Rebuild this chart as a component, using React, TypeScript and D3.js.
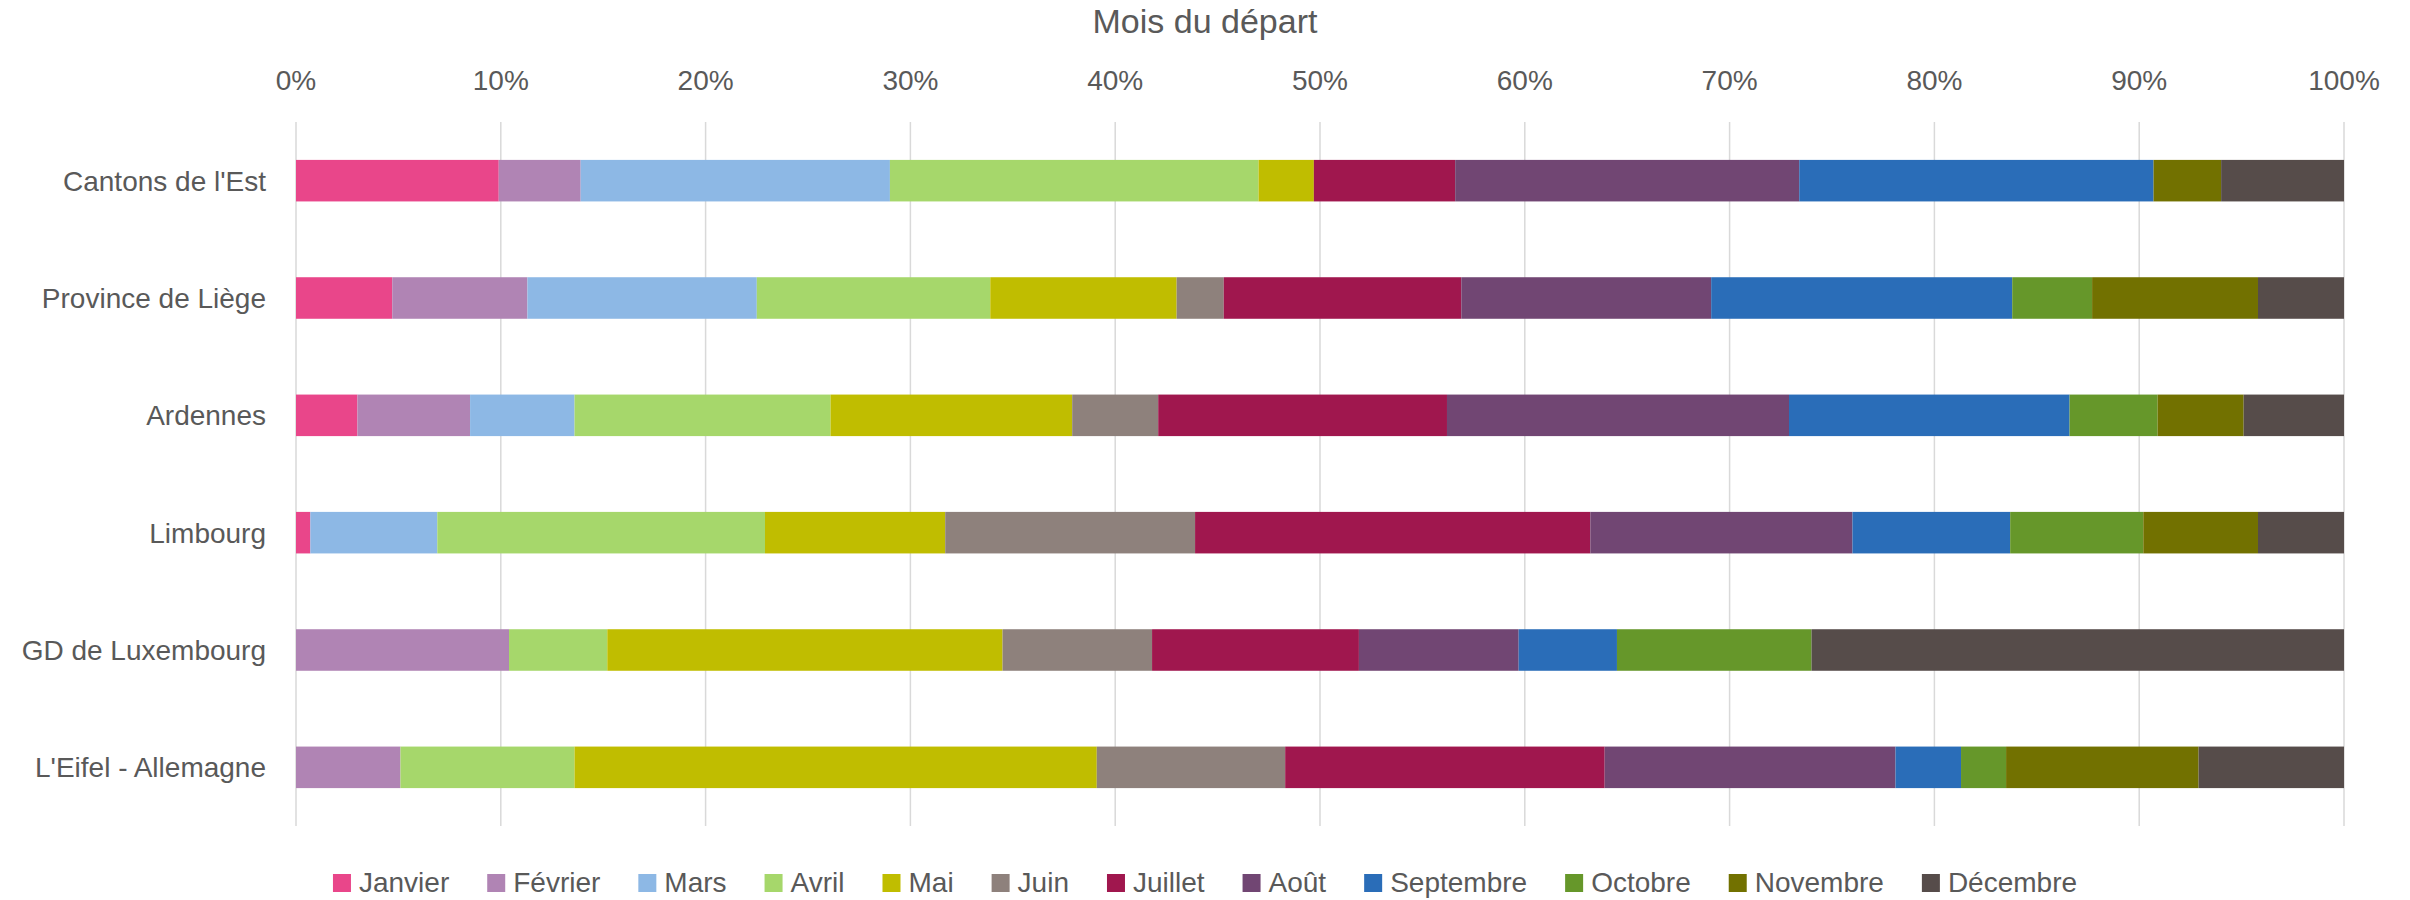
import * as d3 from 'd3';
import { useMemo } from 'react';

const WIDTH = 2410;
const HEIGHT = 900;
const MARGIN = { top: 122, right: 66, bottom: 74, left: 296 };
const FONT = "'Liberation Sans', Arial, sans-serif";
const TEXT_COLOR = '#595959';

const regions = [
  "Cantons de l'Est",
  'Province de Liège',
  'Ardennes',
  'Limbourg',
  'GD de Luxembourg',
  "L'Eifel - Allemagne",
];

const months = [
  'Janvier', 'Février', 'Mars', 'Avril', 'Mai', 'Juin',
  'Juillet', 'Août', 'Septembre', 'Octobre', 'Novembre', 'Décembre',
];

const monthColors = [
  '#E9468A', '#B084B4', '#8DB8E5', '#A6D76B', '#C0BD00', '#8E817C',
  '#A0174E', '#714673', '#2A6DB8', '#66972A', '#727100', '#564C4A',
];

// share of departures per month (%)
const cantonsEst = [9.9, 4.0, 15.1, 18.0, 2.7, 0, 6.9, 16.8, 17.3, 0, 3.3, 6.0];
const provinceLiege = [4.7, 6.6, 11.2, 11.4, 9.1, 2.3, 11.6, 12.2, 14.7, 3.9, 8.1, 4.2];
const ardennes = [3.0, 5.5, 5.1, 12.5, 11.8, 4.2, 14.1, 16.7, 13.7, 4.3, 4.2, 4.9];
const limbourg = [0.7, 0, 6.2, 16.0, 8.8, 12.2, 19.3, 12.8, 7.7, 6.5, 5.6, 4.2];
const gdLuxembourg = [0, 10.4, 0, 4.8, 19.3, 7.3, 10.1, 7.8, 4.8, 9.5, 0, 26.0];
const eifel = [0, 5.1, 0, 8.5, 25.5, 9.2, 15.6, 14.2, 3.2, 2.2, 9.4, 7.1];

const xTicks = [0, 0.1, 0.2, 0.3, 0.4, 0.5, 0.6, 0.7, 0.8, 0.9, 1];

const rows = [cantonsEst, provinceLiege, ardennes, limbourg, gdLuxembourg, eifel];

const measure = (() => {
  let ctx: CanvasRenderingContext2D | null = null;
  return (text: string, size: number) => {
    if (!ctx) ctx = document.createElement('canvas').getContext('2d');
    if (!ctx) return text.length * size * 0.5;
    ctx.font = `${size}px ${FONT}`;
    return ctx.measureText(text).width;
  };
})();

export default function App() {
  const boundsWidth = WIDTH - MARGIN.left - MARGIN.right;
  const plotBottom = 826;

  const table = useMemo(
    () =>
      regions.map((name, i) => {
        const row: Record<string, number | string> = { name };
        months.forEach((m, j) => (row[m] = rows[i][j]));
        return row;
      }),
    [],
  );

  const series = useMemo(
    () =>
      d3
        .stack<Record<string, number | string>>()
        .keys(months)
        .value((d, key) => d[key] as number)
        .offset(d3.stackOffsetExpand)(table),
    [table],
  );

  const xScale = d3
    .scaleLinear()
    .domain([0, 1])
    .range([MARGIN.left, MARGIN.left + boundsWidth]);

  const yScale = d3
    .scaleBand()
    .domain(regions)
    .range([MARGIN.top, plotBottom])
    .paddingInner(0.646)
    .paddingOuter(0.323);

  const color = d3.scaleOrdinal<string>().domain(months).range(monthColors);

  // legend layout, centred on the whole chart
  const legendSize = 28;
  const swatch = 18;
  const swatchGap = 8;
  const itemGap = 38;
  const items = months.map((m) => ({ m, w: measure(m, legendSize) }));
  const total =
    d3.sum(items, (d) => swatch + swatchGap + d.w) + itemGap * (items.length - 1);
  let cursor = WIDTH / 2 - total / 2;
  const legend = items.map((d) => {
    const x = cursor;
    cursor += swatch + swatchGap + d.w + itemGap;
    return { ...d, x };
  });

  return (
    <svg
      width={WIDTH}
      height={HEIGHT}
      style={{ position: 'absolute', left: 0, top: 0, background: '#fff' }}
      fontFamily={FONT}
    >
      <text
        x={WIDTH / 2}
        y={33}
        textAnchor="middle"
        fontSize={34}
        fill={TEXT_COLOR}
      >
        Mois du départ
      </text>

      {xTicks.map((t) => (
        <g key={t}>
          <line
            x1={xScale(t)}
            x2={xScale(t)}
            y1={MARGIN.top}
            y2={plotBottom}
            stroke="#D9D9D9"
            strokeWidth={1.5}
          />
          <text
            x={xScale(t)}
            y={90}
            textAnchor="middle"
            fontSize={28}
            fill={TEXT_COLOR}
          >
            {d3.format('.0%')(t)}
          </text>
        </g>
      ))}

      {series.map((s) => (
        <g key={s.key} fill={color(s.key)}>
          {s.map((d, i) => (
            <rect
              key={i}
              x={xScale(d[0])}
              y={yScale(regions[i])}
              width={Math.max(0, xScale(d[1]) - xScale(d[0]))}
              height={yScale.bandwidth()}
            />
          ))}
        </g>
      ))}

      {regions.map((r) => (
        <text
          key={r}
          x={266}
          y={(yScale(r) ?? 0) + yScale.bandwidth() / 2 + 10}
          textAnchor="end"
          fontSize={28}
          fill={TEXT_COLOR}
        >
          {r}
        </text>
      ))}

      {legend.map((d) => (
        <g key={d.m}>
          <rect x={d.x} y={874} width={swatch} height={swatch} fill={color(d.m)} />
          <text
            x={d.x + swatch + swatchGap}
            y={892}
            fontSize={legendSize}
            fill={TEXT_COLOR}
          >
            {d.m}
          </text>
        </g>
      ))}
    </svg>
  );
}
